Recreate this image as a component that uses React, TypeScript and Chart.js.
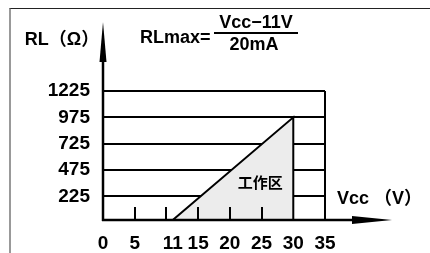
import React, { useEffect, useRef } from 'react';
import { Chart, registerables } from 'chart.js';

Chart.register(...registerables);

// ---- data ----
const xTickLabels = [0, 5, 11, 15, 20, 25, 30, 35];
const xTickMarks = [5, 10, 15, 20, 25];
const yTickLabels = [225, 475, 725, 975, 1225];
const areaVcc = [11, 30, 30];
const areaRL = [0, 975, 0];
const xMin = 0;
const xMax = 35;
const yMin = 0;
const yMax = 1225;
const yTitle = 'RL（Ω）';
const xTitle = 'Vcc （V）';
const formulaLeft = 'RLmax=';
const formulaNum = 'Vcc−11V';
const formulaDen = '20mA';
const zoneLabel = '工作区';
const zoneVcc = 24.8;
const zoneRL = 340;

const FONT = '"Liberation Sans", "Noto Sans CJK SC", sans-serif';

const decorPlugin = {
  id: 'decor',
  afterDatasetsDraw(chart: any) {
    const ctx = chart.ctx as CanvasRenderingContext2D;
    const xs = chart.scales.x;
    const ys = chart.scales.y;
    const x0 = xs.getPixelForValue(xMin);
    const y0 = ys.getPixelForValue(yMin);
    ctx.save();
    ctx.strokeStyle = '#000';
    ctx.fillStyle = '#000';
    ctx.lineCap = 'butt';

    // small tick marks (drawn above the filled zone)
    ctx.lineWidth = 2;
    for (const v of xTickMarks) {
      const px = Math.round(xs.getPixelForValue(v));
      ctx.beginPath();
      ctx.moveTo(px, y0);
      ctx.lineTo(px, y0 - 13);
      ctx.stroke();
    }

    // y axis with arrow
    ctx.lineWidth = 2.5;
    ctx.beginPath();
    ctx.moveTo(x0, y0 + 1);
    ctx.lineTo(x0, 50);
    ctx.stroke();
    ctx.beginPath();
    ctx.moveTo(x0, 22);
    ctx.lineTo(x0 - 3.5, 62);
    ctx.lineTo(x0 + 3.5, 62);
    ctx.closePath();
    ctx.fill();

    // x axis with arrow
    ctx.beginPath();
    ctx.moveTo(x0 - 1, y0);
    ctx.lineTo(370, y0);
    ctx.stroke();
    ctx.beginPath();
    ctx.moveTo(392, y0);
    ctx.lineTo(352, y0 - 4);
    ctx.lineTo(352, y0 + 4);
    ctx.closePath();
    ctx.fill();

    // texts
    ctx.textBaseline = 'middle';
    ctx.font = 'bold 18px ' + FONT;
    ctx.textAlign = 'center';
    ctx.fillText(yTitle, 62, 40);

    ctx.textAlign = 'left';
    ctx.font = 'bold 18px ' + FONT;
    ctx.fillText(formulaLeft, 140, 38);

    ctx.textAlign = 'center';
    ctx.fillText(formulaNum, 256, 23);
    ctx.fillText(formulaDen, 254, 45);
    ctx.lineWidth = 2;
    ctx.beginPath();
    ctx.moveTo(214, 33);
    ctx.lineTo(298, 33);
    ctx.stroke();

    ctx.textAlign = 'left';
    ctx.fillText(xTitle, 337, 199);

    ctx.textAlign = 'center';
    ctx.font = 'bold 15px ' + FONT;
    ctx.fillText(zoneLabel, xs.getPixelForValue(zoneVcc), ys.getPixelForValue(zoneRL));

    ctx.restore();
  },
};

export default function App() {
  const ref = useRef<HTMLCanvasElement>(null);
  useEffect(() => {
    if (!ref.current) return;
    const points = areaVcc.map((v, i) => ({ x: v, y: areaRL[i] }));
    const chart = new Chart(ref.current, {
      type: 'line',
      data: {
        datasets: [
          {
            data: points,
            borderColor: '#000',
            borderWidth: 2,
            backgroundColor: '#ececec',
            fill: 'origin',
            pointRadius: 0,
            tension: 0,
          },
        ],
      },
      options: {
        responsive: false,
        animation: false,
        events: [],
        layout: { padding: { left: 0, top: 91, right: 105, bottom: 0 } },
        plugins: { legend: { display: false }, tooltip: { enabled: false } },
        scales: {
          x: {
            type: 'linear',
            min: xMin,
            max: xMax,
            afterBuildTicks: (scale: any) => {
              scale.ticks = xTickLabels.map((v) => ({ value: v }));
            },
            afterFit: (scale: any) => {
              scale.height = 33;
            },
            border: { display: false },
            grid: {
              drawTicks: false,
              lineWidth: 2,
              color: (c: any) => (c.tick && c.tick.value === xMax ? '#000' : 'rgba(0,0,0,0)'),
            },
            ticks: {
              padding: 12,
              color: '#000',
              font: { family: FONT, size: 19, weight: 'bold' },
              maxRotation: 0,
              autoSkip: false,
              callback: (v: any) => String(v),
            },
          },
          y: {
            type: 'linear',
            min: yMin,
            max: yMax,
            afterBuildTicks: (scale: any) => {
              scale.ticks = yTickLabels.map((v) => ({ value: v }));
            },
            afterFit: (scale: any) => {
              scale.width = 103;
            },
            border: { display: false },
            grid: { drawTicks: false, lineWidth: 2, color: '#000' },
            ticks: {
              padding: 13,
              color: '#000',
              font: { family: FONT, size: 19, weight: 'bold' },
              autoSkip: false,
              callback: (v: any) => String(v),
            },
          },
        },
      },
      plugins: [decorPlugin],
    } as any);
    return () => chart.destroy();
  }, []);

  return (
    <>
      <div
        style={{
          position: 'fixed',
          left: 9,
          top: 8,
          width: 421,
          height: 245,
          boxSizing: 'border-box',
          borderTop: '1.5px solid #222',
          borderLeft: '2px solid #999',
        }}
      />
      <canvas
        ref={ref}
        width={430}
        height={253}
        style={{ position: 'fixed', left: 0, top: 0, width: 430, height: 253 }}
      />
    </>
  );
}
